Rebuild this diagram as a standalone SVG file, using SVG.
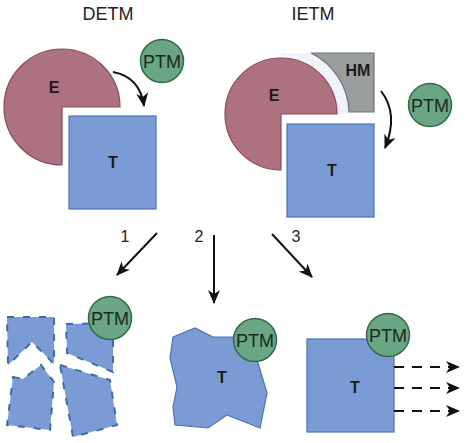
<svg xmlns="http://www.w3.org/2000/svg" width="467" height="443" viewBox="0 0 467 443">
<defs>
<style>
.lbl{font-family:"Liberation Sans",Arial,sans-serif;font-size:18px;fill:#222;text-anchor:middle}
.num{font-family:"Liberation Sans",Arial,sans-serif;font-size:16px;fill:#222;text-anchor:middle}
.bold{font-family:"Liberation Sans",Arial,sans-serif;font-size:16px;font-weight:bold;fill:#1d1a1c;text-anchor:middle}
.ptm{font-family:"Liberation Sans",Arial,sans-serif;font-size:18px;fill:#1a2a20;text-anchor:middle}
.pie{fill:#ad717f;stroke:#8c4a5a;stroke-width:1.2}
.blue{fill:#7b9bd4;stroke:#4b73b6;stroke-width:1.2}
.frag{fill:#7b9bd4;stroke:#3d6da8;stroke-width:2;stroke-dasharray:7 9}
.green{fill:#6aa684;stroke:#2d6a45;stroke-width:1.5}
.hm{fill:#9a9d9e;stroke:#6f7273;stroke-width:1.2}
.arr{fill:none;stroke:#111;stroke-width:2}
.dash{fill:none;stroke:#111;stroke-width:2;stroke-dasharray:10 8}
</style>
<clipPath id="hmclip"><rect x="281" y="53" width="94" height="62"/></clipPath>
<marker id="ah" viewBox="0 0 14 12" refX="13" refY="6" markerWidth="14" markerHeight="12" markerUnits="userSpaceOnUse" orient="auto">
<path d="M0,0 L14,6 L0,12 L4,6 Z" fill="#111"/>
</marker>
</defs>
<rect width="467" height="443" fill="#fff"/>

<text class="lbl" x="108" y="20">DETM</text>
<text class="lbl" x="313" y="20">IETM</text>

<g id="detm-E">
<path class="pie" d="M62,107 L120,107 A58,58 0 1 0 62,165 Z"/>
<text class="bold" x="54" y="93">E</text>
</g>
<g id="detm-T">
<rect class="blue" x="69" y="116" width="87" height="93"/>
<text class="bold" x="113" y="168">T</text>
</g>
<g id="detm-PTM">
<circle class="green" cx="162" cy="61" r="21.5"/>
<text class="ptm" x="162" y="67.5">PTM</text>
</g>

<g id="ietm-E">
<path d="M281,114 L281,46 A68,68 0 0 1 349,114 Z" fill="#f0f3f8" clip-path="url(#hmclip)"/>
<path class="pie" d="M281,114 L337,114 A56,56 0 1 0 281,170 Z"/>
<text class="bold" x="274" y="101">E</text>
</g>
<g id="ietm-HM">
<path class="hm" d="M311,53 L374,53 L374,112 L349,112 A68,68 0 0 0 311,53 Z"/>
<text class="bold" x="358" y="76">HM</text>
</g>
<g id="ietm-T">
<rect class="blue" x="287" y="124" width="87" height="93"/>
<text class="bold" x="332" y="176">T</text>
</g>
<g id="ietm-PTM">
<circle class="green" cx="430" cy="105" r="21.5"/>
<text class="ptm" x="430" y="111.5">PTM</text>
</g>

<g id="fragments">
<polygon class="frag" points="7,317 54,317 54,364 32,342 8,365"/>
<polygon class="frag" points="66,324 113,323 113,372 67,353"/>
<polygon class="frag" points="13,377 23,379 41,365 54,382 50,430 7,425"/>
<polygon class="frag" points="60,365 110,380 117,425 73,437"/>
</g>
<g id="frag-PTM">
<circle class="green" cx="110" cy="318" r="21.5"/>
<text class="ptm" x="110" y="324.5">PTM</text>
</g>

<g id="deformed-T">
<polygon class="blue" points="173,337 195,328 213,337 250,337 258,363 267,393 260,428 227,415 208,428 175,425 173,407 177,387 170,358"/>
<text class="bold" x="222" y="383">T</text>
</g>
<g id="deformed-PTM">
<circle class="green" cx="255" cy="340" r="21.5"/>
<text class="ptm" x="255" y="346.5">PTM</text>
</g>

<g id="signal-T">
<rect class="blue" x="307" y="339" width="87" height="93"/>
<text class="bold" x="355" y="393">T</text>
</g>
<g id="signal-PTM">
<circle class="green" cx="388" cy="335" r="21.5"/>
<text class="ptm" x="388" y="341.5">PTM</text>
</g>

<g id="connectors">
<path class="arr" d="M113,72 Q140,77 144,106" marker-end="url(#ah)"/>
<path class="arr" d="M381,91 Q399,114 385,148" marker-end="url(#ah)"/>
<line class="arr" x1="157" y1="233" x2="117" y2="275" marker-end="url(#ah)"/>
<line class="arr" x1="214" y1="235" x2="214" y2="303" marker-end="url(#ah)"/>
<line class="arr" x1="272" y1="234" x2="312" y2="277" marker-end="url(#ah)"/>
<line class="dash" x1="394" y1="367" x2="459" y2="367" marker-end="url(#ah)"/>
<line class="dash" x1="394" y1="388" x2="459" y2="388" marker-end="url(#ah)"/>
<line class="dash" x1="394" y1="411" x2="459" y2="411" marker-end="url(#ah)"/>
<text class="num" x="125" y="242">1</text>
<text class="num" x="199" y="242">2</text>
<text class="num" x="296" y="242">3</text>
</g>
</svg>
